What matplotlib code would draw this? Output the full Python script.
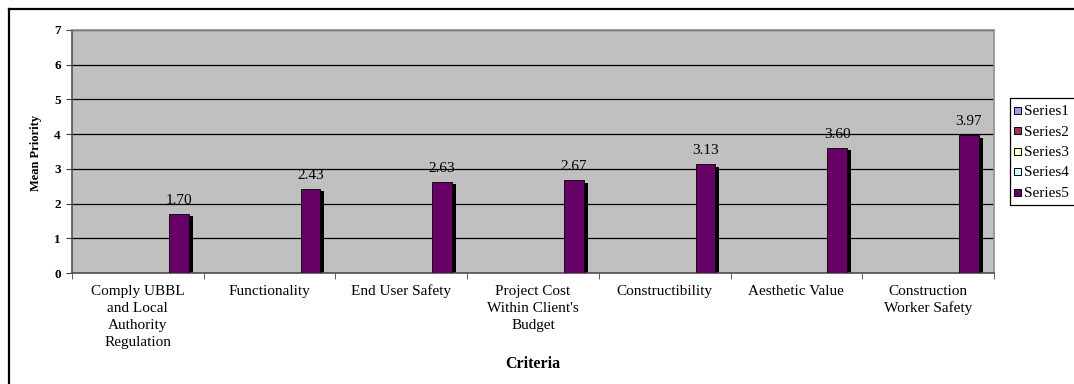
import matplotlib
matplotlib.use("Agg")
import matplotlib.pyplot as plt
import matplotlib.transforms as mtransforms
from matplotlib.patches import Rectangle
from matplotlib.lines import Line2D

categories = ["Comply UBBL\nand Local\nAuthority\nRegulation", "Functionality", "End User Safety",
              "Project Cost\nWithin Client's\nBudget", "Constructibility", "Aesthetic Value",
              "Construction\nWorker Safety"]
values = [1.70, 2.43, 2.63, 2.67, 3.13, 3.60, 3.97]
value_labels = ["1.70", "2.43", "2.63", "2.67", "3.13", "3.60", "3.97"]
series_names = ["Series1", "Series2", "Series3", "Series4", "Series5"]
series_colors = ["#9999FF", "#993366", "#FFFFCC", "#CCFFFF", "#660066"]

plt.rcParams['font.family'] = ['Liberation Serif', 'DejaVu Serif']

W, H = 1074, 384
fig = plt.figure(figsize=(W / 100, H / 100), dpi=100)
ax = fig.add_axes([72 / W, 1 - 273 / H, (994 - 72) / W, (273 - 30) / H])
ax.set_facecolor("#C0C0C0")

x = list(range(len(categories)))
off = 0.31
bw = 0.15
# shadow
ax.bar([i + off + 0.03 for i in x], [v - 0.07 for v in values], width=bw, color="black",
       zorder=2, linewidth=0)
ax.bar([i + off for i in x], values, width=bw, color=series_colors[4], edgecolor="black",
       linewidth=0.6, zorder=3)
for i, (v, lab) in enumerate(zip(values, value_labels)):
    ax.annotate(lab, (i + off, v), xytext=(0, 5), textcoords="offset points",
                ha="center", va="bottom", fontsize=11)

ax.set_xlim(-0.5, 6.5)
ax.set_ylim(0, 7)
ax.set_yticks(range(8))
ax.set_yticklabels([str(i) for i in range(8)], fontweight="bold", fontsize=9.5)
ax.yaxis.grid(True, color="black", linewidth=0.9, zorder=1)
ax.set_axisbelow(True)
ax.set_xticks([])
ax.set_xticks([i + 0.5 for i in range(-1, 7)], minor=True)
ax.tick_params(axis="x", which="minor", length=4, direction="out", color="#404040",
               labelbottom=False)
ax.tick_params(axis="y", length=4, direction="out", color="#404040", pad=4)

# category labels, one line at a time at fixed baselines
for i, lab in enumerate(categories):
    for j, line in enumerate(lab.split("\n")):
        tr = mtransforms.blended_transform_factory(ax.transData, ax.transAxes) + \
            mtransforms.ScaledTranslation(0, -(22 + 17 * j) / 100, fig.dpi_scale_trans)
        ax.text(i, 0, line, transform=tr, ha="center", va="baseline", fontsize=11)

for s in ["left", "bottom"]:
    ax.spines[s].set_color("#505050")
    ax.spines[s].set_linewidth(1.2)
for s in ["top", "right"]:
    ax.spines[s].set_color("#909090")
    ax.spines[s].set_linewidth(1.2)

fig.text(36 / W, 1 - 153 / H, "Mean Priority", rotation=90, ha="center", va="center",
         fontsize=9, fontweight="bold")
fig.text(533 / W, 1 - 364 / H, "Criteria", ha="center", va="center", fontsize=11.5,
         fontweight="bold")

# outer chart border (top and left visible)
fig.add_artist(Line2D([9 / W, 1.0], [1 - 9 / H, 1 - 9 / H], color="black", linewidth=1.6,
                      transform=fig.transFigure))
fig.add_artist(Line2D([9 / W, 9 / W], [0, 1 - 9 / H], color="black", linewidth=1.6,
                      transform=fig.transFigure))

# legend (drawn in figure pixel coordinates)
fig.add_artist(Rectangle((1010 / W, 1 - 205 / H), 80 / W, 107 / H, transform=fig.transFigure,
                         facecolor="white", edgecolor="black", linewidth=0.9))
for k, (name, col) in enumerate(zip(series_names, series_colors)):
    yc = 110 + 20.5 * k
    fig.add_artist(Rectangle((1013.5 / W, 1 - (yc + 3.5) / H), 7 / W, 7 / H,
                             transform=fig.transFigure, facecolor=col, edgecolor="black",
                             linewidth=0.7))
    fig.text(1024 / W, 1 - yc / H, name, ha="left", va="center_baseline", fontsize=11)

fig.savefig("out.png", dpi=100)
